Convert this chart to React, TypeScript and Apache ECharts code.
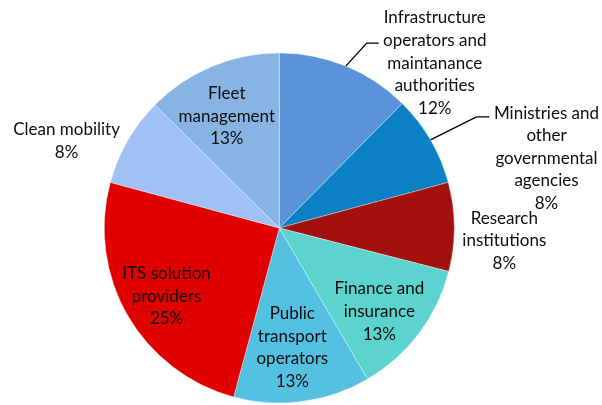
import { useEffect, useRef } from 'react';
import * as echarts from 'echarts';

const categories = [
  'Infrastructure\noperators and\nmaintanance\nauthorities',
  'Ministries and\nother\ngovernmental\nagencies',
  'Research\ninstitutions',
  'Finance and\ninsurance',
  'Public\ntransport\noperators',
  'ITS solution\nproviders',
  'Clean mobility',
  'Fleet\nmanagement',
];
const shares = [12.4, 8.4, 8.2, 12.6, 12.6, 25.0, 8.2, 12.6];
const colors = ['#5A93D7', '#0B80C4', '#A3110F', '#5DD3CF', '#55C1E2', '#E00000', '#A0C0F6', '#88B4E4'];

// layout (pixels)
const CX = 279.3;
const CY = 228;
const R = 175;
const outsideIdx = [0, 1];
// label centre offset from the slice's outer edge at its mid angle
const labelOffsets: [number, number][] = [
  [89, -4], [116, 17.5], [50, 13], [-39.6, -23], [-10, -55], [39, -20], [-61, -1], [15, 48.5],
];
const guideOffsets: ([number, number][] | null)[] = [
  [[0, 0], [21, -23], [33, -23]],
  [[0, 0], [46, -23], [59, -23]],
  null, null, null, null, null, null,
];

export default function App() {
  const ref = useRef<HTMLDivElement>(null);
  useEffect(() => {
    if (!ref.current) return;
    const chart = echarts.init(ref.current, null, { renderer: 'svg' });
    const total = shares.reduce((a, b) => a + b, 0);
    const mids: number[] = [];
    let acc = 0;
    shares.forEach((v) => {
      mids.push(((acc + v / 2) / total) * Math.PI * 2);
      acc += v;
    });
    chart.setOption({
      animation: false,
      series: [
        {
          type: 'pie',
          center: [CX, CY],
          radius: R,
          startAngle: 90,
          clockwise: true,
          avoidLabelOverlap: false,
          itemStyle: { borderColor: 'rgba(255,255,255,0.6)', borderWidth: 0.6 },
          label: {
            show: true,
            position: 'inside',
            fontFamily: 'Lato',
            fontSize: 17,
            lineHeight: 22.6,
            color: '#0d0d0d',
            align: 'center',
            formatter: (p: any) => `${p.name}\n${Math.round(p.percent)}%`,
          },
          labelLine: { show: false, lineStyle: { color: '#000', width: 1.3 } },
          labelLayout: (params: any) => {
            const i = params.dataIndex;
            const a = mids[i];
            const ex = CX + R * Math.sin(a);
            const ey = CY - R * Math.cos(a);
            const [ox, oy] = labelOffsets[i];
            const res: any = { x: ex + ox, y: ey + oy, align: 'center', verticalAlign: 'middle' };
            const g = guideOffsets[i];
            if (g) res.labelLinePoints = g.map(([gx, gy]) => [ex + gx, ey + gy]);
            return res;
          },
          data: categories.map((name, i) => {
            const out = outsideIdx.includes(i);
            return {
              name,
              value: shares[i],
              itemStyle: { color: colors[i] },
              label: { position: out ? 'outside' : 'inside' },
              labelLine: { show: out, length: 10, length2: 10 },
            };
          }),
        },
      ],
    });
    return () => chart.dispose();
  }, []);
  return <div ref={ref} style={{ position: 'fixed', left: 0, top: 0, width: 602, height: 405 }} />;
}
